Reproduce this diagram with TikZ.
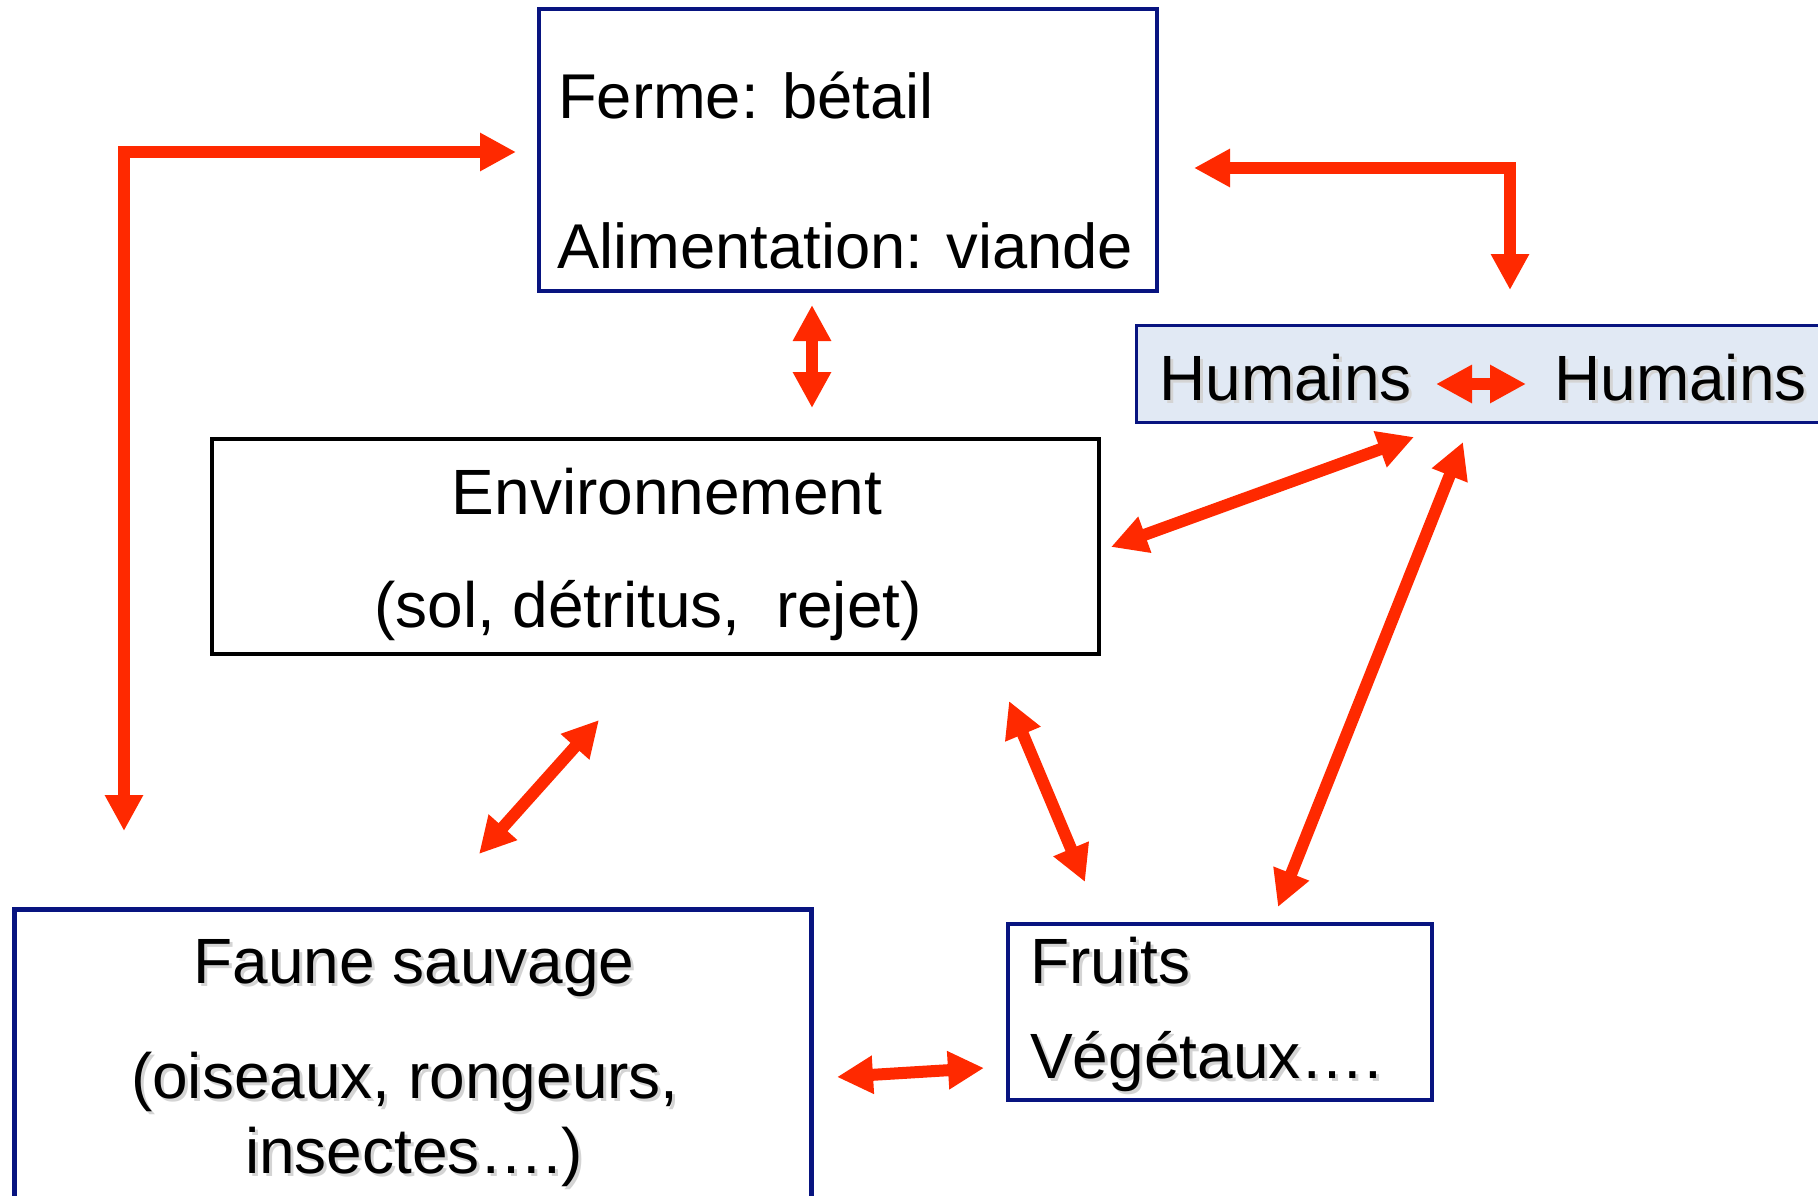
\documentclass[tikz,border=0pt]{standalone}
\usepackage{fontspec}
\setmainfont{Liberation Sans}
\usetikzlibrary{arrows.meta}
\definecolor{navy}{RGB}{8,20,128}
\definecolor{arrred}{RGB}{255,41,0}
\definecolor{hfill}{RGB}{225,233,244}
\tikzset{
  box/.style={draw=navy, line width=4pt, rectangle, inner sep=0pt, outer sep=0pt},
  lbl/.style={inner sep=0pt, font=\fontsize{64}{77}\selectfont, text=black},
  shd/.style={inner sep=0pt, font=\fontsize{64}{77}\selectfont, text=black!17},
  tipT/.tip={Triangle[length=36pt,width=36pt]},
  arr/.style={draw=arrred, line width=12pt, line join=miter, tipT-tipT},
}
\begin{document}
\begin{tikzpicture}[x=1pt,y=-1pt]
\useasboundingbox[fill=white] (0,0) rectangle (1818,1196);

% boxes
\node[box, minimum width=618pt, minimum height=282pt] (ferme) at (848,150) {};
\node[box, line width=3pt, fill=hfill, minimum width=694pt, minimum height=97pt] (hum) at (1483,373.5) {};
\node[box, draw=black, minimum width=887pt, minimum height=215pt] (env) at (655.5,546.5) {};
\node[box, line width=5pt, minimum width=797pt, minimum height=301pt] (faune) at (413,1059.5) {};
\node[box, minimum width=424pt, minimum height=176pt] (fruits) at (1220,1012) {};

% texts
\node[lbl, font=\fontsize{63.3}{77}\selectfont, anchor=base west] (t1) at (558,119) {Ferme: bétail};
\node[lbl, font=\fontsize{63.3}{77}\selectfont, anchor=base west] (t2) at (557,268) {Alimentation: viande};

\node[lbl, anchor=base] (t3) at (667,514) {Environnement};
\node[lbl, anchor=base] (t4) at (648,627) {(sol, détritus,\ \ rejet)};

\node[shd, anchor=base west] (s5) at (1162,403) {Humains};
\node[lbl, anchor=base west] (t5) at (1159,400) {Humains};
\node[shd, anchor=base west] (s6) at (1557,403) {Humains};
\node[lbl, anchor=base west] (t6) at (1554,400) {Humains};

\node[shd, anchor=base] (s7) at (417,986) {Faune sauvage};
\node[lbl, anchor=base] (t7) at (414,983) {Faune sauvage};
\node[shd, anchor=base] (s8) at (408,1101) {(oiseaux, rongeurs,};
\node[lbl, anchor=base] (t8) at (405,1098) {(oiseaux, rongeurs,};
\node[shd, anchor=base] (s9) at (417,1176) {insectes….)};
\node[lbl, anchor=base] (t9) at (414,1173) {insectes….)};

\node[shd, anchor=base west] (s10) at (1033,986) {Fruits};
\node[lbl, anchor=base west] (t10) at (1030,983) {Fruits};
\node[shd, anchor=base west] (s11) at (1033,1081) {Végétaux….};
\node[lbl, anchor=base west] (t11) at (1030,1078) {Végétaux….};

% arrow end points
\coordinate (fa) at (124,831);
\coordinate (fb) at (516,152);
\coordinate (ha) at (1510,290);
\coordinate (hb) at (1194,168);
\coordinate (ev1) at (812,305);
\coordinate (ev2) at (812,408);
\coordinate (eh1) at (1111,547);
\coordinate (eh2) at (1414,437);
\coordinate (hf1) at (1463,442);
\coordinate (hf2) at (1278,907);
\coordinate (ef1) at (599,720);
\coordinate (ef2) at (479,854);
\coordinate (er1) at (1009,701);
\coordinate (er2) at (1085,882);
\coordinate (ff1) at (837,1077);
\coordinate (ff2) at (984,1068);
\coordinate (hh1) at (1436,384);
\coordinate (hh2) at (1526,384);

% arrows
\draw[arr] (fa) |- (fb);
\draw[arr] (hb) -| (ha);
\draw[arr] (ev1) -- (ev2);
\draw[arr] (eh1) -- (eh2);
\draw[arr] (hf1) -- (hf2);
\draw[arr] (ef1) -- (ef2);
\draw[arr] (er1) -- (er2);
\draw[arr] (ff1) -- (ff2);
\draw[arr] (hh1) -- (hh2);
\end{tikzpicture}
\end{document}
